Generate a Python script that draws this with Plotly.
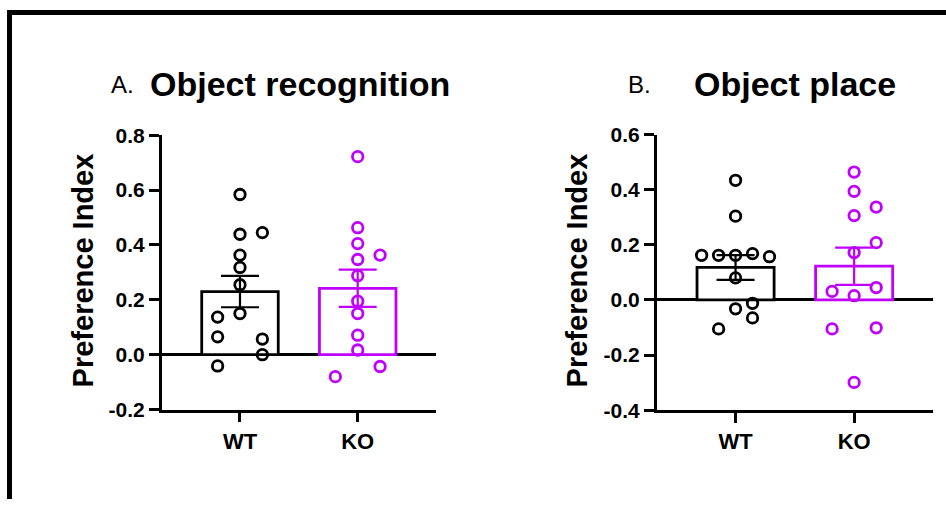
import plotly.graph_objects as go

W, H = 946, 510

# ---------------- data ----------------
groups = ["WT", "KO"]

# Panel A: Object recognition
a_wt = [0.584, 0.439, 0.363, 0.318, 0.255, 0.150, 0.445, 0.057, 0.000, 0.137, 0.065, -0.041]
a_wt_slot = [0, 0, 0, 0, 0, 0, 1, 1, 1, -1, -1, -1]
a_ko = [0.722, 0.463, 0.405, 0.347, 0.288, 0.195, 0.150, 0.071, 0.017, 0.363, -0.043, -0.080]
a_ko_slot = [0, 0, 0, 0, 0, 0, 0, 0, 0, 1, 1, -1]
a_means = [0.230, 0.242]
a_sems = [0.057, 0.068]

# Panel B: Object place
b_wt = [0.162, 0.162, -0.105, 0.434, 0.304, 0.162, 0.080, -0.032, 0.168, -0.012, -0.065, 0.157]
b_wt_slot = [-2, -1, -1, 0, 0, 0, 0, 0, 1, 1, 1, 2]
b_ko = [0.464, 0.394, 0.306, 0.172, 0.0155, -0.299, 0.337, 0.208, 0.045, -0.101, 0.031, -0.105]
b_ko_slot = [0, 0, 0, 0, 0, 0, 1.3, 1.3, 1.3, 1.3, -1.3, -1.3]
b_means = [0.118, 0.1225]
b_sems = [0.045, 0.0675]

a_ticks = [-0.2, 0.0, 0.2, 0.4, 0.6, 0.8]
a_ticklabels = ["-0.2", "0.0", "0.2", "0.4", "0.6", "0.8"]
b_ticks = [-0.4, -0.2, 0.0, 0.2, 0.4, 0.6]
b_ticklabels = ["-0.4", "-0.2", "0.0", "0.2", "0.4", "0.6"]

# ---------------- style ----------------
FONT = "Liberation Sans"
BLACK = "#000000"
MAG = "#C000FF"
colors = [BLACK, MAG]

# observed page placement of the paper area (vertical)
Y_OFF, H_EFF = 10.0, 490.0


def px(x):
    return x / W


def py(y):
    return 1 - (y - Y_OFF) / H_EFF


fig = go.Figure()


def add_panel(xa, ya, values, slots, step, means, sems):
    xref = "x" if xa == "xaxis" else "x2"
    yref = "y" if ya == "yaxis" else "y2"
    for i in range(2):
        fig.add_trace(go.Bar(
            x=[i], y=[means[i]], width=0.65,
            marker=dict(color="white", line=dict(color=colors[i], width=2.8)),
            xaxis=xref, yaxis=yref, showlegend=False, hoverinfo="skip"))
    for i in range(2):
        xs = [i + s * step for s in slots[i]]
        fig.add_trace(go.Scatter(
            x=xs, y=values[i], mode="markers",
            marker=dict(symbol="circle-open", size=10.5, color=colors[i],
                        line=dict(width=2.8, color=colors[i])),
            xaxis=xref, yaxis=yref, showlegend=False, cliponaxis=False))
    for i in range(2):
        fig.add_trace(go.Scatter(
            x=[i], y=[means[i]], mode="markers",
            marker=dict(size=1, opacity=0),
            error_y=dict(type="data", array=[sems[i]], color=colors[i],
                         thickness=2.2, width=19),
            xaxis=xref, yaxis=yref, showlegend=False, hoverinfo="skip"))


add_panel("xaxis", "yaxis", [a_wt, a_ko], [a_wt_slot, a_ko_slot], 0.19, a_means, a_sems)
add_panel("xaxis2", "yaxis2", [b_wt, b_ko], [b_wt_slot, b_ko_slot], 0.143, b_means, b_sems)

xrange = [-0.665, 1.665]
common_x = dict(range=xrange, tickvals=[0, 1], ticktext=groups, showline=True,
                linecolor=BLACK, linewidth=2.6, ticks="outside", ticklen=10,
                tickwidth=2.6, tickcolor=BLACK, showgrid=False, zeroline=False,
                tickfont=dict(family=FONT, size=22, color=BLACK, weight="bold"),
                fixedrange=True)
common_y = dict(showline=True, linecolor=BLACK, linewidth=2.6, ticks="outside",
                ticklen=10, tickwidth=2.6, tickcolor=BLACK, showgrid=False,
                zeroline=True, zerolinecolor=BLACK, zerolinewidth=2.6,
                tickfont=dict(family=FONT, size=21, color=BLACK, weight="bold"),
                fixedrange=True)

fig.update_layout(
    width=W, height=H, margin=dict(l=0, r=0, t=0, b=0),
    paper_bgcolor="white", plot_bgcolor="white",
    xaxis=dict(domain=[px(161.7), px(436)], anchor="y", **common_x),
    yaxis=dict(domain=[py(410), py(134)], anchor="x", range=[-0.2, 0.8],
               tickvals=a_ticks, ticktext=a_ticklabels, **common_y),
    xaxis2=dict(domain=[px(656.7), px(933)], anchor="y2", **common_x),
    yaxis2=dict(domain=[py(410.7), py(133.3)], anchor="x2", range=[-0.4, 0.6],
                tickvals=b_ticks, ticktext=b_ticklabels, **common_y),
    barmode="overlay",
)

ann = []
def text(x, y, s, size, bold=False, angle=0, xanchor="center"):
    ann.append(dict(x=px(x), y=py(y), xref="paper", yref="paper", text=s,
                    showarrow=False, textangle=angle, xanchor=xanchor, yanchor="middle",
                    font=dict(family=FONT, size=size, color=BLACK,
                              weight="bold" if bold else "normal")))

text(109, 83, "A.", 24, xanchor="left")
text(300, 82, "Object recognition", 34, bold=True)
text(626, 83, "B.", 24, xanchor="left")
text(795, 82, "Object place", 34, bold=True)
text(83, 270, "Preference Index", 29, bold=True, angle=-90)
text(577, 270, "Preference Index", 29, bold=True, angle=-90)
fig.update_layout(annotations=ann)

# outer frame (partially cropped in the reference): top and left edges only
fig.add_shape(type="line", xref="paper", yref="paper",
              x0=px(7), x1=1, y0=py(10.5), y1=py(10.5),
              line=dict(color=BLACK, width=5))
fig.add_shape(type="line", xref="paper", yref="paper",
              x0=px(9.5), x1=px(9.5), y0=py(8), y1=0,
              line=dict(color=BLACK, width=5))

fig.write_html("out.html")
